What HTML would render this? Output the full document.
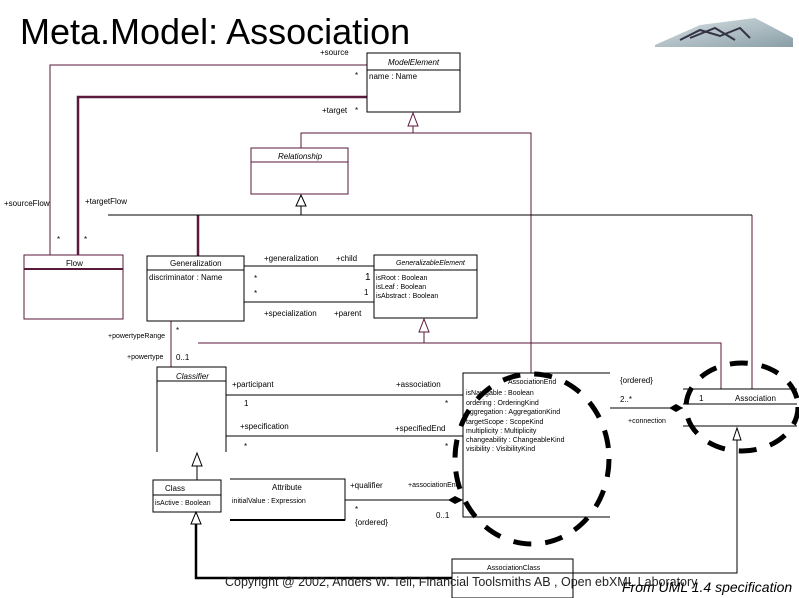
<!DOCTYPE html>
<html><head><meta charset="utf-8"><style>
html,body{margin:0;padding:0;background:#fff}
svg{display:block}
text{font-family:"Liberation Sans",sans-serif}
</style></head><body>
<svg width="799" height="598" viewBox="0 0 799 598" xmlns="http://www.w3.org/2000/svg">
<defs>
<linearGradient id="lg" x1="0" y1="0" x2="1" y2="1"><stop offset="0" stop-color="#d8e2e6"/><stop offset="1" stop-color="#8a9ea6"/></linearGradient>
</defs>
<text x="20" y="44" font-size="36" fill="#000">Meta.Model: Association</text>
<polygon points="655,45 700,25 755,18 793,38 793,47 655,47" fill="url(#lg)"/>
<path d="M680,40 L700,30 L720,36 L740,28 L750,38 M690,38 L715,28 L735,40" stroke="#334" stroke-width="2" fill="none"/>

<g fill="none" stroke="#5a1a3a" stroke-width="1">
<path d="M50,255 V65 H367"/>
<path d="M78,255 V97 H367" stroke-width="2.5"/>
<path d="M413,126 V133 H531 V373"/>
<path d="M301,148 V133 H413"/>
<path d="M198,215 V256" stroke-width="2.5"/>
<path d="M752,215 V389"/>
<path d="M171,321 V367"/>
<path d="M198,343 H721 V389"/>
<path d="M424,332 V343"/>
</g>
<g fill="none" stroke="#000" stroke-width="1">
<path d="M108,215 H752"/>
<path d="M301,200 V215"/>
<path d="M244,266 H374 M244,302 H374"/>
<path d="M226,395 H463 M226,436 H463"/>
<path d="M345,500 H463"/>
<path d="M610,408 H683"/>
<path d="M197,466 V480"/>
<path d="M196,518 V578 H452" stroke-width="2.5"/>
<path d="M737,440 V573 H573"/>
</g>
<g fill="#fff" stroke="#000" stroke-width="1">
<polygon points="413,113 408,126 418,126" stroke="#5a1a3a"/>
<polygon points="301,195 296,206 306,206"/>
<polygon points="424,319 419,332 429,332" stroke="#5a1a3a"/>
<polygon points="197,453 192,466 202,466"/>
<polygon points="196,512 191,524 201,524"/>
<polygon points="737,428 733,440 741,440"/>
</g>
<polygon points="463,500 455,496 448,500 455,504" fill="#000"/>
<polygon points="683,408 676,404 669,408 676,412" fill="#000"/>

<g fill="none" stroke="#000" stroke-width="1">
<rect x="367" y="53" width="93" height="59"/><path d="M367,70 H460"/>
<rect x="251" y="148" width="97" height="46" stroke="#5a1a3a"/><path d="M251,162 H348" stroke="#5a1a3a"/>
<rect x="24" y="255" width="99" height="64" stroke="#5a1a3a"/><path d="M24,269 H123" stroke="#5a1a3a" stroke-width="2"/>
<rect x="147" y="256" width="97" height="65"/><path d="M147,270 H244"/>
<rect x="374" y="255" width="103" height="63"/><path d="M374,270 H477"/>
<path d="M157,452 V367 H226 V452 M157,381 H226"/>
<rect x="153" y="480" width="68" height="32"/><path d="M153,495 H221"/>
<path d="M230,479 H345 V520 H230" /><path d="M230,520 H345" stroke-width="2"/>
<path d="M610,373 H463 V517 H610"/>
<path d="M683,389 H797 M683,404 H797 M683,426 H797"/>
<rect x="452" y="559" width="121" height="39"/><path d="M452,573 H573"/>
</g>

<ellipse cx="532" cy="459" rx="77" ry="85" fill="none" stroke="#000" stroke-width="5" stroke-dasharray="18,14"/>
<ellipse cx="742" cy="407" rx="56" ry="44" fill="none" stroke="#000" stroke-width="5" stroke-dasharray="18,14"/>

<g font-size="8" fill="#000">
<text x="320" y="55">+source</text>
<text x="388" y="65" font-style="italic">ModelElement</text>
<text x="355" y="78">*</text>
<text x="369" y="79">name : Name</text>
<text x="322" y="113">+target</text><text x="355" y="113">*</text>
<text x="278" y="159" font-style="italic">Relationship</text>
<text x="4" y="206">+sourceFlow</text>
<text x="85" y="204">+targetFlow</text>
<text x="57" y="242">*</text><text x="84" y="242">*</text>
<text x="66" y="266">Flow</text>
<text x="170" y="266">Generalization</text>
<text x="149" y="280">discriminator : Name</text>
<text x="264" y="261">+generalization</text>
<text x="336" y="261">+child</text>
<text x="254" y="281">*</text><text x="365" y="280" font-size="10">1</text>
<text x="254" y="296">*</text><text x="364" y="295">1</text>
<text x="264" y="316">+specialization</text>
<text x="334" y="316">+parent</text>
<text x="396" y="265" font-style="italic" font-size="7">GeneralizableElement</text>
<text x="376" y="280" font-size="7">isRoot : Boolean</text>
<text x="376" y="289" font-size="7">isLeaf : Boolean</text>
<text x="376" y="298" font-size="7">isAbstract : Boolean</text>
<text x="108" y="338" font-size="7">+powertypeRange</text>
<text x="127" y="359" font-size="7">+powertype</text>
<text x="176" y="333">*</text>
<text x="176" y="360">0..1</text>
<text x="176" y="379" font-style="italic">Classifier</text>
<text x="232" y="387">+participant</text>
<text x="396" y="387">+association</text>
<text x="244" y="406">1</text>
<text x="445" y="406">*</text>
<text x="240" y="429">+specification</text>
<text x="395" y="431">+specifiedEnd</text>
<text x="244" y="449">*</text><text x="445" y="449">*</text>
<text x="165" y="491">Class</text>
<text x="155" y="505" font-size="7">isActive : Boolean</text>
<text x="272" y="490">Attribute</text>
<text x="232" y="503" font-size="7">initialValue : Expression</text>
<text x="350" y="488">+qualifier</text>
<text x="408" y="487" font-size="7">+associationEnd</text>
<text x="355" y="512">*</text>
<text x="355" y="525">{ordered}</text>
<text x="436" y="518">0..1</text>
<text x="508" y="384" font-size="7">AssociationEnd</text>
<g font-size="7">
<text x="466" y="395">isNavigable : Boolean</text>
<text x="466" y="405">ordering : OrderingKind</text>
<text x="466" y="414">aggregation : AggregationKind</text>
<text x="466" y="424">targetScope : ScopeKind</text>
<text x="466" y="433">multiplicity : Multiplicity</text>
<text x="466" y="442">changeability : ChangeableKind</text>
<text x="466" y="451">visibility : VisibilityKind</text>
</g>
<text x="620" y="383">{ordered}</text>
<text x="620" y="402">2..*</text>
<text x="628" y="423" font-size="7">+connection</text>
<text x="699" y="401">1</text>
<text x="735" y="401">Association</text>
<text x="487" y="570" font-size="7">AssociationClass</text>
</g>
<text x="225" y="586" font-size="12.5" fill="#222">Copyright @ 2002, Anders W. Tell, Financial Toolsmiths AB , Open ebXML Laboratory</text>
<text x="622" y="592" font-size="14" font-style="italic" fill="#000">From UML 1.4 specification</text>
</svg>
</body></html>
